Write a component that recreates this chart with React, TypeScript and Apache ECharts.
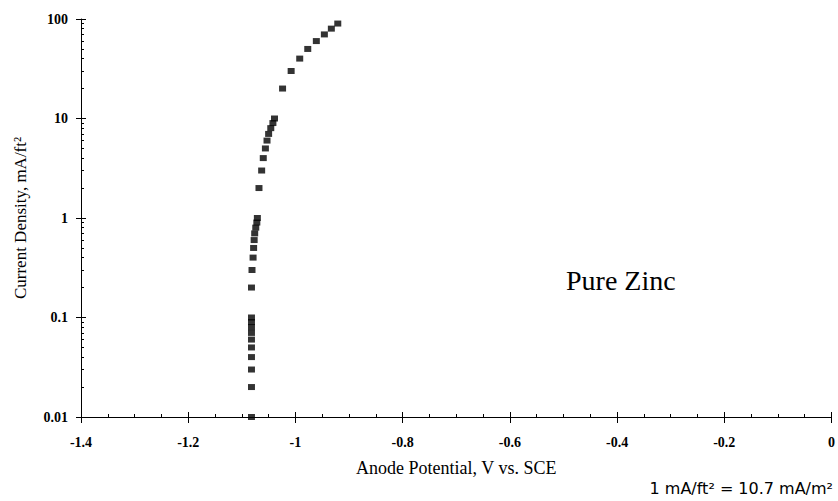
import React, { useEffect, useRef } from "react";
import * as echarts from "echarts";

const currents = [0.01, 0.02, 0.03, 0.04, 0.05, 0.06, 0.07, 0.08, 0.09, 0.1, 0.2, 0.3, 0.4, 0.5, 0.6, 0.7, 0.8, 0.9, 1, 2, 3, 4, 5, 6, 7, 8, 9, 10, 20, 30, 40, 50, 60, 70, 80, 90];
const potentials = [-1.082, -1.082, -1.082, -1.082, -1.082, -1.082, -1.082, -1.082, -1.082, -1.082, -1.082, -1.081, -1.079, -1.078, -1.077, -1.076, -1.074, -1.072, -1.071, -1.068, -1.063, -1.06, -1.056, -1.053, -1.05, -1.046, -1.042, -1.039, -1.024, -1.008, -0.992, -0.977, -0.961, -0.946, -0.933, -0.921];
const yMinorTicks = [0.02, 0.03, 0.04, 0.05, 0.06, 0.07, 0.08, 0.09, 0.2, 0.3, 0.4, 0.5, 0.6, 0.7, 0.8, 0.9, 2, 3, 4, 5, 6, 7, 8, 9, 20, 30, 40, 50, 60, 70, 80, 90];

const SERIF = "'Liberation Serif', 'DejaVu Serif', serif";

export default function App() {
  const ref = useRef<HTMLDivElement>(null);
  useEffect(() => {
    if (!ref.current) return;
    const chart = echarts.init(ref.current, null, { renderer: "svg" });
    const axisLine = { show: true, onZero: false, lineStyle: { color: "#000", width: 1 } };
    const noLine = { show: false, onZero: false };
    chart.setOption({
      animation: false,
      backgroundColor: "#fff",
      grid: { left: 81, right: 5, top: 19, bottom: 84 },
      xAxis: [
        {
          type: "value",
          min: -1.4,
          max: 0,
          interval: 0.2,
          position: "bottom",
          axisLine,
          axisTick: { show: true, inside: true, length: 5, lineStyle: { color: "#000" } },
          minorTick: { show: true, splitNumber: 4, length: 3, lineStyle: { color: "#000" } },
          splitLine: { show: false },
          axisLabel: { margin: 18, color: "#000", fontFamily: SERIF, fontWeight: "bold", fontSize: 14 },
          name: "Anode Potential, V vs. SCE",
          nameLocation: "middle",
          nameGap: 42,
          nameTextStyle: { color: "#000", fontFamily: SERIF, fontSize: 18 },
        },
        {
          type: "value",
          min: -1.4,
          max: 0,
          interval: 0.2,
          position: "bottom",
          axisLine: noLine,
          axisTick: { show: true, inside: false, length: 6, lineStyle: { color: "#000" } },
          axisLabel: { show: false },
          splitLine: { show: false },
        },
      ],
      yAxis: [
        {
          type: "log",
          logBase: 10,
          min: 0.01,
          max: 100,
          position: "left",
          axisLine,
          axisTick: { show: true, inside: true, length: 5, lineStyle: { color: "#000" } },
          splitLine: { show: false },
          axisLabel: { margin: 13, color: "#000", fontFamily: SERIF, fontWeight: "bold", fontSize: 14 },
          name: "Current Density, mA/ft²",
          nameLocation: "middle",
          nameGap: 52,
          nameRotate: 90,
          nameTextStyle: { color: "#000", fontFamily: SERIF, fontSize: 17 },
        },
        {
          type: "log",
          logBase: 10,
          min: 0.01,
          max: 100,
          position: "left",
          axisLine: noLine,
          axisTick: { show: true, inside: false, length: 5, lineStyle: { color: "#000" } },
          axisLabel: { show: false },
          splitLine: { show: false },
        },
        {
          type: "log",
          logBase: 10,
          min: 0.01,
          max: 100,
          position: "left",
          axisLine: noLine,
          axisTick: { show: true, inside: true, length: 3, customValues: yMinorTicks, lineStyle: { color: "#000" } },
          axisLabel: { show: false },
          splitLine: { show: false },
        },
      ],
      graphic: [
        {
          type: "text",
          left: 566,
          top: 266,
          style: { text: "Pure Zinc", fill: "#000", font: `28px ${SERIF}` },
        },
        {
          type: "text",
          right: 5,
          top: 480,
          style: { text: "1 mA/ft² = 10.7 mA/m²", fill: "#000", font: `16px 'DejaVu Sans', sans-serif` },
        },
      ],
      series: [
        {
          type: "scatter",
          xAxisIndex: 0,
          yAxisIndex: 0,
          symbol: "rect",
          symbolSize: [7, 6],
          itemStyle: { color: "#000" },
          data: potentials.map((p, i) => [p, currents[i]]),
        },
      ],
    });
    return () => chart.dispose();
  }, []);
  return <div ref={ref} style={{ width: 838, height: 501, position: "absolute", left: 0, top: 0 }} />;
}
